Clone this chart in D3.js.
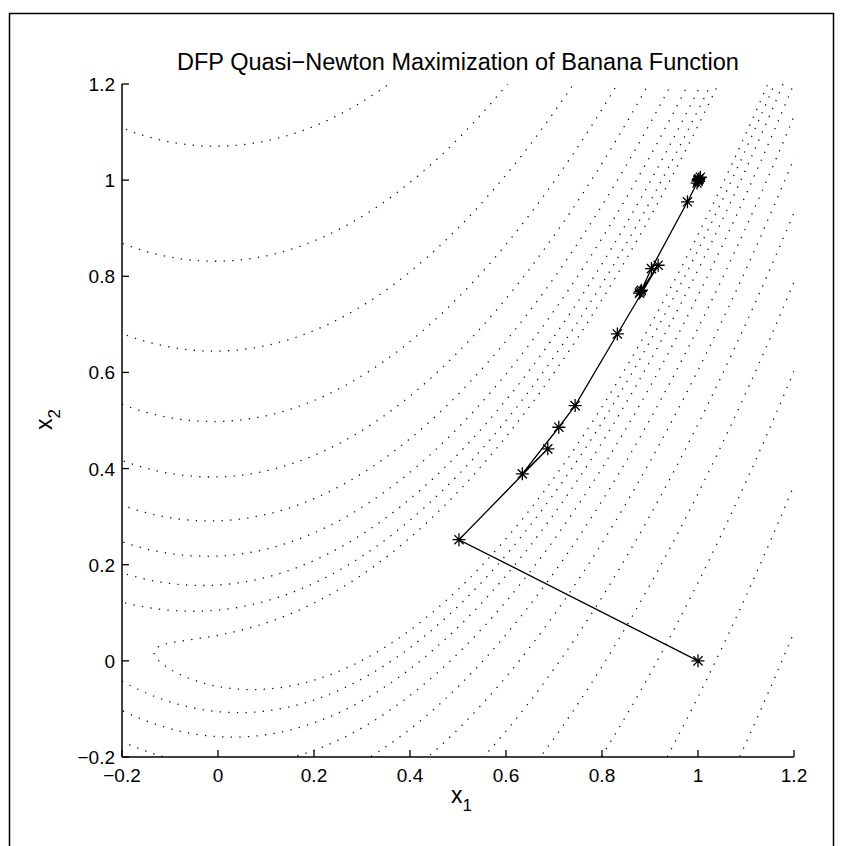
<!DOCTYPE html>
<html><head><meta charset="utf-8">
<script src="https://cdn.jsdelivr.net/npm/d3@7"></script>
<style>body{margin:0;background:#fff} text{font-family:"Liberation Sans",Arial,Helvetica,sans-serif;fill:#000}</style>
</head><body><svg id="c" width="843" height="846"></svg>
<script>
// ---- data ----
const titleText = "DFP Quasi\u2212Newton Maximization of Banana Function";
const xLabel = "x", xLabelSub = "1";
const yLabel = "x", yLabelSub = "2";
const xTicks = [-0.2, 0, 0.2, 0.4, 0.6, 0.8, 1, 1.2];
const xTickLabels = ["\u22120.2", "0", "0.2", "0.4", "0.6", "0.8", "1", "1.2"];
const yTicks = [-0.2, 0, 0.2, 0.4, 0.6, 0.8, 1, 1.2];
const yTickLabels = ["\u22120.2", "0", "0.2", "0.4", "0.6", "0.8", "1", "1.2"];
// contour levels of the banana function f = 100(x2-x1^2)^2 + (1-x1)^2
const contourLevels = [1.284, 2.117, 3.490, 5.755, 9.488, 15.64, 25.79, 42.52, 70.11, 115.6, 190.6];
// iterates of the DFP search
const pathX1 = [1.000, 0.502, 0.687, 0.634, 0.710, 0.744, 0.832, 0.917, 0.880, 0.878, 0.882, 0.903, 0.978, 1.000, 1.005, 0.998, 1.002, 1.001, 1.000];
const pathX2 = [0.000, 0.252, 0.441, 0.389, 0.486, 0.531, 0.680, 0.823, 0.768, 0.765, 0.771, 0.816, 0.955, 0.998, 1.006, 0.994, 1.003, 1.001, 1.000];

// ---- layout ----
const svg = d3.select("#c");
const L = 122, R = 794, T = 84, B = 757;
const x = d3.scaleLinear().domain([-0.2, 1.2]).range([L, R]);
const y = d3.scaleLinear().domain([-0.2, 1.2]).range([B, T]);

// outer frame
svg.append("rect").attr("x", 9.5).attr("y", 13.5).attr("width", 824).attr("height", 860)
  .attr("fill", "none").attr("stroke", "#000").attr("stroke-width", 1.5);

svg.append("defs").append("clipPath").attr("id", "clip")
  .append("rect").attr("x", L).attr("y", T).attr("width", R - L).attr("height", B - T);

// ---- contours ----
const banana = (a, b) => 100 * (b - a * a) ** 2 + (1 - a) ** 2;
const g0 = -0.3, step = 0.004, n = 401;
const vals = new Float64Array(n * n);
for (let j = 0; j < n; j++) for (let i = 0; i < n; i++) vals[j * n + i] = banana(g0 + i * step, g0 + j * step);
const conts = d3.contours().size([n, n]).thresholds(contourLevels)(vals);
const proj = d3.geoTransform({
  point: function (cx, cy) { this.stream.point(x(g0 + (cx - 0.5) * step), y(g0 + (cy - 0.5) * step)); }
});
const gp = d3.geoPath(proj);
svg.append("g").attr("clip-path", "url(#clip)")
  .selectAll("path").data(conts).join("path")
  .attr("d", gp).attr("fill", "none").attr("stroke", "#111")
  .attr("stroke-width", 1.3).attr("stroke-dasharray", "1.3,7.3");

// ---- search path ----
const pts = pathX1.map((v, i) => [v, pathX2[i]]);
svg.append("path").datum(pts)
  .attr("d", d3.line().x(d => x(d[0])).y(d => y(d[1])))
  .attr("fill", "none").attr("stroke", "#000").attr("stroke-width", 1.3);
const s = 6.5, dd = 4.6;
const star = `M${-s},0H${s}M0,${-s}V${s}M${-dd},${-dd}L${dd},${dd}M${-dd},${dd}L${dd},${-dd}`;
svg.append("g").selectAll("path").data(pts).join("path")
  .attr("transform", d => `translate(${x(d[0])},${y(d[1])})`)
  .attr("d", star).attr("fill", "none").attr("stroke", "#000").attr("stroke-width", 1.3);

// ---- axes ----
const ax = svg.append("g");
ax.append("line").attr("x1", L).attr("x2", R).attr("y1", B).attr("y2", B).attr("stroke", "#000").attr("stroke-width", 1.5);
ax.append("line").attr("x1", L).attr("x2", L).attr("y1", T).attr("y2", B).attr("stroke", "#000").attr("stroke-width", 1.5);
const tl = 7;
xTicks.forEach((t, i) => {
  ax.append("line").attr("x1", x(t)).attr("x2", x(t)).attr("y1", B).attr("y2", B - tl).attr("stroke", "#000").attr("stroke-width", 1.3);
  ax.append("text").attr("x", x(t)).attr("y", B + 25).attr("text-anchor", "middle").attr("font-size", 19).text(xTickLabels[i]);
});
yTicks.forEach((t, i) => {
  ax.append("line").attr("x1", L).attr("x2", L + tl).attr("y1", y(t)).attr("y2", y(t)).attr("stroke", "#000").attr("stroke-width", 1.3);
  ax.append("text").attr("x", L - 7).attr("y", y(t) + 7).attr("text-anchor", "end").attr("font-size", 19).text(yTickLabels[i]);
});

// labels
const xl = svg.append("text").attr("x", 451).attr("y", 803).attr("font-size", 23);
xl.append("tspan").text(xLabel);
xl.append("tspan").attr("dy", 8).attr("font-size", 17).text(xLabelSub);
const yl = svg.append("text").attr("transform", "translate(52,430) rotate(-90)").attr("font-size", 23);
yl.append("tspan").text(yLabel);
yl.append("tspan").attr("dy", 8).attr("font-size", 17).text(yLabelSub);

svg.append("text").attr("x", (L + R) / 2).attr("y", 70).attr("text-anchor", "middle")
  .attr("font-size", 23.5).text(titleText);
</script></body></html>
